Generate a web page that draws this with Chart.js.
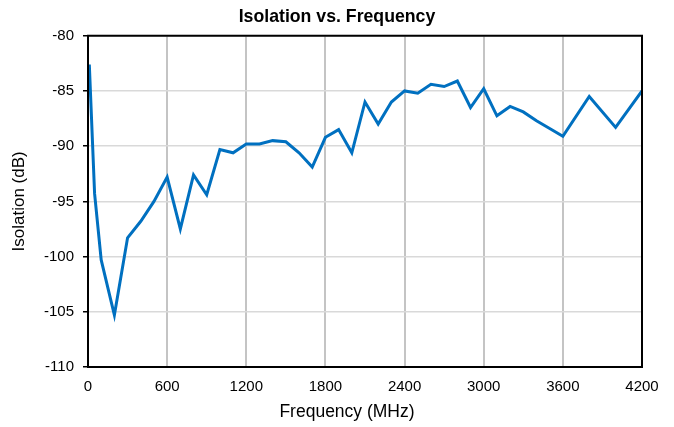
<!DOCTYPE html>
<html>
<head>
<meta charset="utf-8">
<script src="https://cdn.jsdelivr.net/npm/chart.js@4"></script>
<style>
  html, body { margin: 0; padding: 0; background: #fff; }
  #wrap { width: 674px; height: 427px; position: relative; }
</style>
</head>
<body>
<div id="wrap"><canvas id="iso-chart"></canvas></div>
<script>
/* ── data ── */
const freqMHz = [10, 50, 100, 200, 300, 400, 500, 600, 700, 800, 900, 1000, 1100, 1200, 1300, 1400,
  1500, 1600, 1700, 1800, 1900, 2000, 2100, 2200, 2300, 2400, 2500, 2600, 2700, 2800, 2900, 3000,
  3100, 3200, 3300, 3400, 3500, 3600, 3800, 4000, 4200];
const isolationDb = [-82.6, -94.3, -100.3, -105.3, -98.3, -96.8, -95.0, -92.8, -97.5, -92.6, -94.4, -90.3,
  -90.6, -89.8, -89.8, -89.5, -89.6, -90.6, -91.9, -89.2, -88.5, -90.6, -86.0, -88.0, -86.0, -85.0,
  -85.2, -84.4, -84.6, -84.1, -86.5, -84.8, -87.25, -86.4, -86.9, -87.7, -88.4, -89.1, -85.5, -88.3, -85.0];
const xTicks = { min: 0, max: 4200, step: 600 };
const yTicks = { min: -110, max: -80, step: 5 };
const xTitle = 'Frequency (MHz)';

const FONT = "'Liberation Sans', Arial, sans-serif";

// black frame round the plot + x-axis title (sits a bit left of centre in the reference)
const frame = {
  id: 'frame',
  afterDraw(chart) {
    const { ctx, chartArea: a } = chart;
    ctx.save();
    ctx.strokeStyle = '#000';
    ctx.lineWidth = 2;
    ctx.strokeRect(a.left, a.top, a.right - a.left, a.bottom - a.top);
    ctx.fillStyle = '#000';
    ctx.font = '17.5px ' + FONT;
    ctx.textAlign = 'center';
    ctx.textBaseline = 'middle';
    ctx.fillText(xTitle, (a.left + a.right) / 2 - 18, 412);
    ctx.restore();
  }
};

new Chart(document.getElementById('iso-chart').getContext('2d'), {
  type: 'line',
  data: {
    datasets: [{
      label: 'Isolation',
      data: freqMHz.map((f, i) => ({ x: f, y: isolationDb[i] })),
      borderColor: '#0070C0',
      borderWidth: 3,
      pointRadius: 0,
      tension: 0,
      fill: false
    }]
  },
  options: {
    responsive: true, maintainAspectRatio: false, animation: false,
    layout: { padding: 0 },
    plugins: {
      legend: { display: false },
      tooltip: { enabled: false },
      title: {
        display: true, text: 'Isolation vs. Frequency', color: '#000',
        font: { family: FONT, size: 17.7, weight: 'bold' },
        padding: { top: 6.5, bottom: 8 }
      }
    },
    scales: {
      x: {
        type: 'linear', min: xTicks.min, max: xTicks.max,
        afterFit: s => { s.height = 60; },
        grid: { color: '#C4C4C4', lineWidth: 2, drawTicks: false },
        border: { display: true, color: '#000', width: 2 },
        ticks: { stepSize: xTicks.step, color: '#000', padding: 11, maxRotation: 0,
                 font: { family: FONT, size: 15 }, callback: v => String(v) },
        title: { display: false }
      },
      y: {
        min: yTicks.min, max: yTicks.max,
        afterFit: s => { s.width = 88; },
        grid: { color: '#D9D9D9', lineWidth: 1.5, tickColor: '#000', tickLength: 5, tickWidth: 1.5 },
        border: { display: true, color: '#000', width: 2 },
        ticks: { stepSize: yTicks.step, color: '#000', padding: 9,
                 font: { family: FONT, size: 15 } },
        title: { display: true, text: 'Isolation (dB)', color: '#000',
                 font: { family: FONT, size: 17 }, padding: { top: 9, bottom: 0 } }
      },
      // empty right-hand margin so the chart title centres on the full width
      yRight: {
        position: 'right', min: yTicks.min, max: yTicks.max,
        afterFit: s => { s.width = 32; },
        grid: { display: false }, border: { display: false },
        ticks: { display: false }
      }
    }
  },
  plugins: [frame]
});
</script>
</body>
</html>
